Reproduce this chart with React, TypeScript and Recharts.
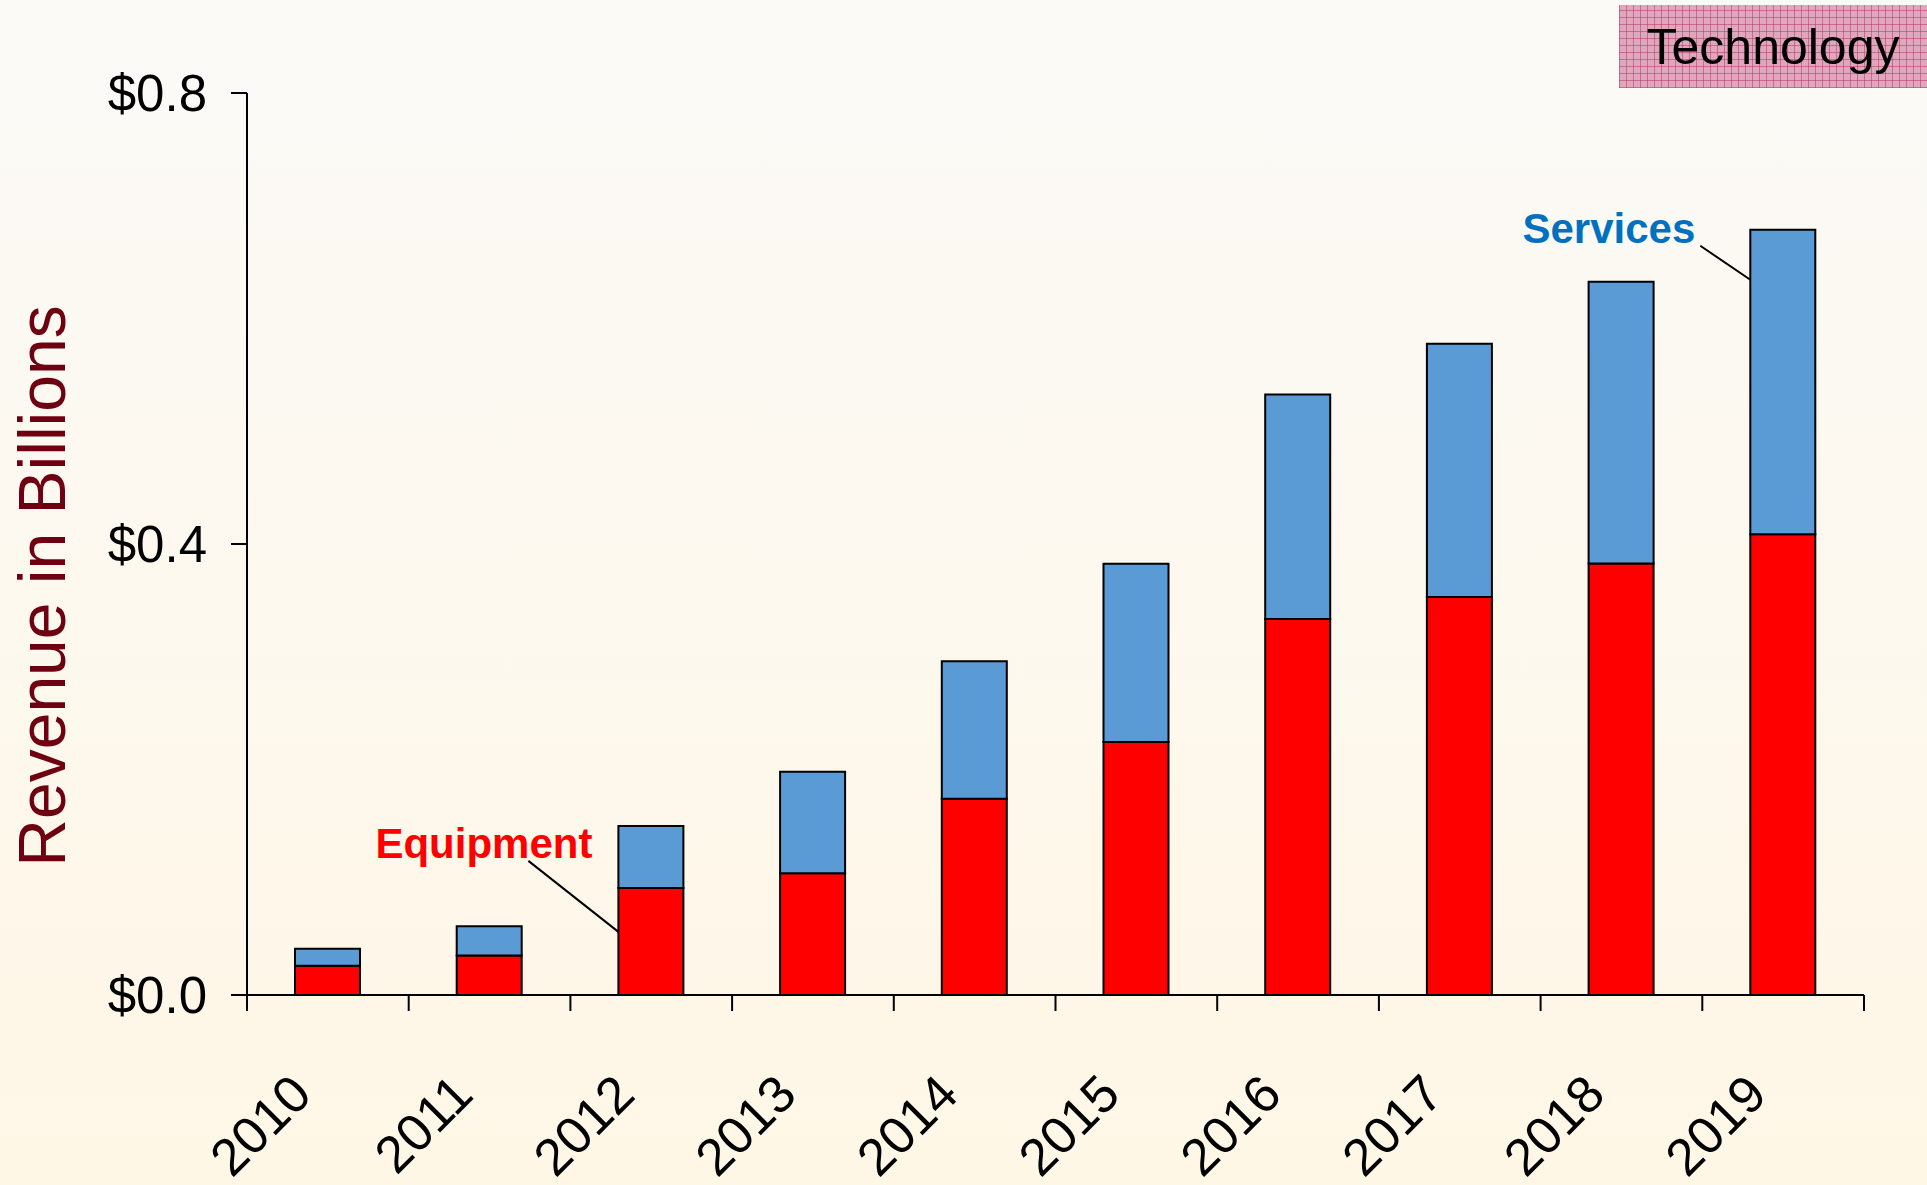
import { Bar, BarChart, LabelList, XAxis, YAxis } from "recharts";

const years = ["2010", "2011", "2012", "2013", "2014", "2015", "2016", "2017", "2018", "2019"];
const equipment = [0.026, 0.035, 0.095, 0.108, 0.174, 0.2245, 0.3335, 0.353, 0.3826, 0.4087];
const services = [0.015, 0.026, 0.055, 0.09, 0.122, 0.158, 0.199, 0.2245, 0.25, 0.27];
const yTicks = [0, 0.4, 0.8];

const data = years.map((year, i) => ({ year, equipment: equipment[i], services: services[i] }));

const FONT = '"Liberation Sans", Arial, sans-serif';
const W = 1927;
const H = 1185;

function YearTick(props: any) {
  const { x, y, payload } = props;
  const half = payload.offset ?? 80.85;
  const last = payload.index === years.length - 1;
  return (
    <g>
      <line x1={x - half} x2={x - half} y1={y} y2={y + 16} stroke="#000" strokeWidth={2} />
      {last && <line x1={x + half} x2={x + half} y1={y} y2={y + 16} stroke="#000" strokeWidth={2} />}
      <g transform={`translate(${x - 14},${y + 102})`}>
        <text transform="rotate(-45)" textAnchor="end" fontSize={52} fontFamily={FONT} fill="#000">
          {payload.value}
        </text>
      </g>
    </g>
  );
}

function EquipmentNote(props: any) {
  const { x, y, index } = props;
  if (index !== 2) return null;
  return (
    <g>
      <line x1={x - 90} y1={y - 27} x2={x} y2={y + 44} stroke="#000" strokeWidth={2} />
      <text x={x - 26} y={y - 30} textAnchor="end" fontSize={42} fontWeight="bold" fontFamily={FONT} fill="#ff0000">
        Equipment
      </text>
    </g>
  );
}

function ServicesNote(props: any) {
  const { x, y, index } = props;
  if (index !== years.length - 1) return null;
  return (
    <g>
      <line x1={x - 50} y1={y + 16} x2={x} y2={y + 50} stroke="#000" strokeWidth={2} />
      <text x={x - 55} y={y + 13} textAnchor="end" fontSize={42} fontWeight="bold" fontFamily={FONT} fill="#0070c0">
        Services
      </text>
    </g>
  );
}

function AxisTitle(props: any) {
  const { viewBox } = props;
  const cy = viewBox.y + viewBox.height / 2 + 42;
  return (
    <text
      x={42}
      y={cy}
      transform={`rotate(-90, 42, ${cy})`}
      textAnchor="middle"
      dominantBaseline="central"
      fontSize={66}
      fontFamily={FONT}
      fill="#6e0012"
    >
      Revenue in Billions
    </text>
  );
}

export default function App() {
  return (
    <div
      style={{
        position: "absolute",
        left: 0,
        top: 0,
        width: W,
        height: H,
        background: "linear-gradient(180deg, #fbfaf7 0%, #fff7e6 100%)",
        overflow: "hidden",
      }}
    >
      <div
        style={{
          position: "absolute",
          left: 1619,
          top: 5,
          width: 308,
          height: 83,
          background:
            "repeating-linear-gradient(0deg, rgba(176,48,100,0.5) 0 1px, transparent 1px 7px), repeating-linear-gradient(90deg, rgba(176,48,100,0.5) 0 1px, transparent 1px 7px), #dea7bb",
          display: "flex",
          alignItems: "center",
          justifyContent: "center",
          fontFamily: FONT,
          fontSize: 50,
          color: "#000",
        }}
      >
        Technology
      </div>
      <BarChart
        width={W}
        height={H}
        data={data}
        margin={{ top: 93, right: 63, bottom: 30, left: 0 }}
        barSize={65}
        style={{ position: "absolute", left: 0, top: 0 }}
      >
        <XAxis
          dataKey="year"
          height={160}
          axisLine={{ stroke: "#000", strokeWidth: 2 }}
          tickLine={false}
          tickSize={0}
          tickMargin={0}
          interval={0}
          tick={<YearTick />}
        />
        <YAxis
          width={247}
          domain={[0, 0.8]}
          ticks={yTicks}
          interval={0}
          axisLine={{ stroke: "#000", strokeWidth: 2 }}
          tickLine={{ stroke: "#000", strokeWidth: 2 }}
          tickSize={16}
          tickMargin={24}
          tickFormatter={(v: number) => `$${v.toFixed(1)}`}
          tick={{ fontSize: 51, fontFamily: FONT, fill: "#000" }}
          label={<AxisTitle />}
        />
        <Bar dataKey="equipment" stackId="a" fill="#ff0000" stroke="#000" strokeWidth={2} isAnimationActive={false}>
          <LabelList dataKey="equipment" content={<EquipmentNote />} />
        </Bar>
        <Bar dataKey="services" stackId="a" fill="#5b9bd5" stroke="#000" strokeWidth={2} isAnimationActive={false}>
          <LabelList dataKey="services" content={<ServicesNote />} />
        </Bar>
      </BarChart>
    </div>
  );
}
